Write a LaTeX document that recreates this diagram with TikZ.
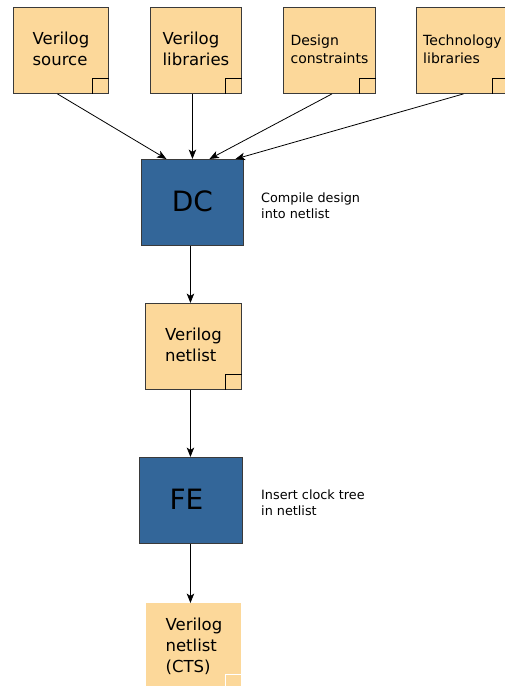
\documentclass[tikz,border=0pt]{standalone}
\usepackage{fontspec}
\setmainfont{DejaVu Sans}
\usetikzlibrary{arrows.meta}
\definecolor{filebg}{RGB}{252,216,154}
\definecolor{toolbg}{RGB}{51,102,153}
\definecolor{edge}{RGB}{58,58,58}
\newcommand{\cornersq}[2][black]{%
  \draw[#1,line width=0.8pt] ([xshift=-17]#2.south east) |- ([yshift=16]#2.south east);}
\begin{document}
\begin{tikzpicture}[x=1pt,y=-1pt,
  file/.style={draw=edge,line width=0.9pt,fill=filebg,anchor=north west,
    minimum height=86pt,inner sep=0pt,align=left,
    execute at end node={\vphantom{g}}},
  tool/.style={draw=edge,line width=0.9pt,fill=toolbg,anchor=north west,
    minimum height=86pt,inner sep=0pt,font=\fontsize{28}{32}\selectfont},
  big/.style={font=\fontsize{16.5}{21}\selectfont},
  small/.style={font=\fontsize{14}{18}\selectfont},
  note/.style={anchor=base west,align=left,inner sep=0pt,
    font=\fontsize{12.8}{15.5}\selectfont},
  flow/.style={draw=black,line width=0.8pt,
    -{Stealth[length=9.5pt,width=7.5pt,inset=2.5pt]}}]
\useasboundingbox (0,0) rectangle (505,686);

% input files
\node[file,big,minimum width=95pt] (src) at (13,7) {Verilog\\source};
\node[file,big,minimum width=91pt] (lib) at (150,7) {Verilog\\libraries};
\node[file,small,minimum width=92pt] (con) at (283,7) {Design\\constraints};
\node[file,small,minimum width=92pt] (tech) at (416,7) {Technology\\libraries};
\cornersq{src}
\cornersq{lib}
\cornersq{con}
\cornersq{tech}

% synthesis
\node[tool,minimum width=102pt] (dc) at (141,159) {\raisebox{2pt}{DC}};
\node[note] (dcnote) at (261,218) {Compile design\\into netlist};

\node[file,big,minimum width=96pt] (net) at (145,303) {Verilog\\netlist};
\cornersq{net}

% clock tree insertion
\node[tool,minimum width=103pt] (fe) at (139,457) {\makebox[0pt]{\hspace*{-9pt}\raisebox{2pt}{FE}}};
\node[note] (fenote) at (261,515) {Insert clock tree\\in netlist};

\node[file,big,draw=none,minimum width=95pt] (cts) at (146,603) {Verilog\\netlist\\(CTS)};
\cornersq[white]{cts}

% connectors
\draw[flow] ([xshift=-3.5]src.south) -- ([xshift=-26]dc.north);
\draw[flow] ([xshift=-3.5]lib.south) -- ([xshift=0]dc.north);
\draw[flow] ([xshift=2.5]con.south) -- ([xshift=17]dc.north);
\draw[flow] ([xshift=1]tech.south) -- ([xshift=43]dc.north);
\draw[flow] ([xshift=-2]dc.south) -- ([xshift=-3]net.north);
\draw[flow] ([xshift=-3]net.south) -- ([xshift=-0.5]fe.north);
\draw[flow] ([xshift=-0.5]fe.south) -- ([xshift=-3.5]cts.north);
\end{tikzpicture}
\end{document}
